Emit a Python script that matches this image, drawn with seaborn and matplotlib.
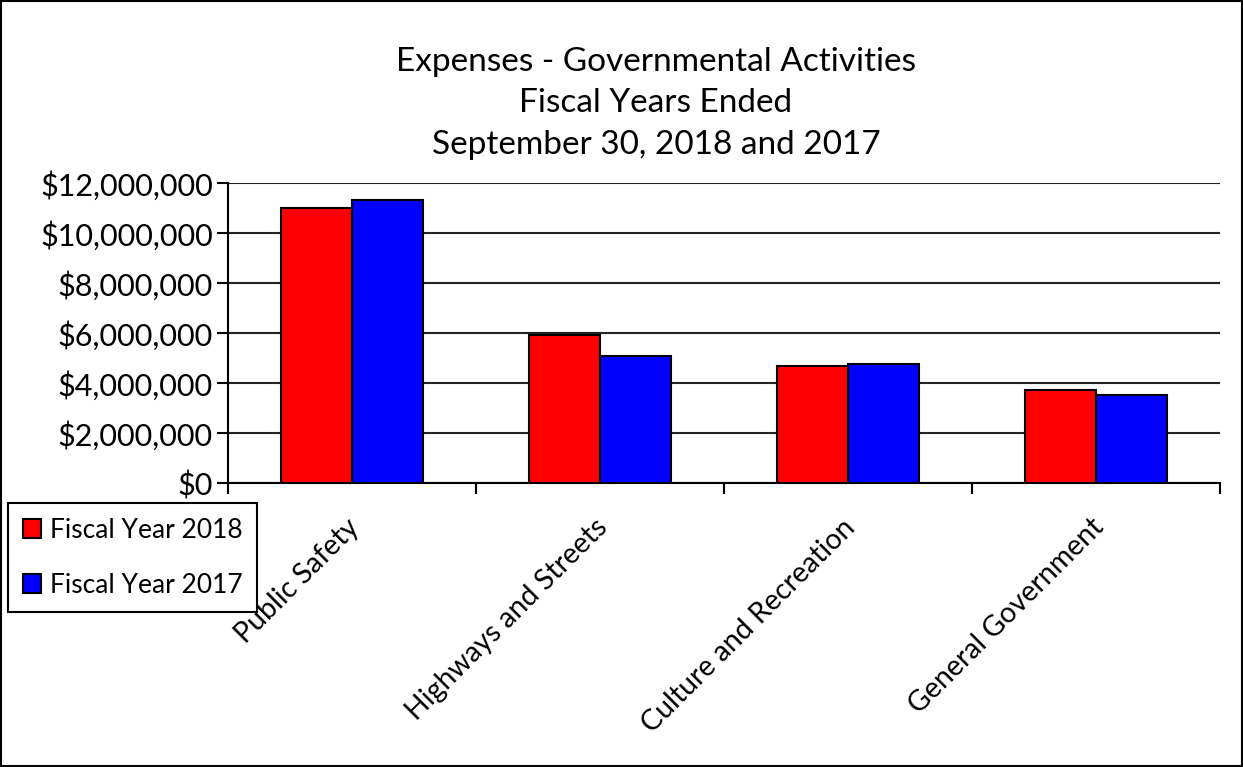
import matplotlib
matplotlib.use("Agg")
import matplotlib.pyplot as plt
import matplotlib.ticker as mticker
import matplotlib.transforms as mtransforms
from matplotlib.patches import Rectangle, Patch
import seaborn as sns
import pandas as pd

categories = ["Public Safety", "Highways and Streets", "Culture and Recreation", "General Government"]
fy2018 = [11010000, 5920000, 4700000, 3730000]
fy2017 = [11330000, 5090000, 4770000, 3530000]
series_names = ["Fiscal Year 2018", "Fiscal Year 2017"]
colors = {"Fiscal Year 2018": "#FF0000", "Fiscal Year 2017": "#0000FF"}
title_lines = ["Expenses - Governmental Activities", "Fiscal Years Ended", "September 30, 2018 and 2017"]

df = pd.DataFrame({
    "Category": categories * 2,
    "Series": [series_names[0]] * 4 + [series_names[1]] * 4,
    "Value": fy2018 + fy2017,
})

sns.set_theme(style="white")
plt.rcParams["font.family"] = ["Lato", "DejaVu Sans"]
plt.rcParams["text.color"] = "black"
plt.rcParams["xtick.color"] = "black"
plt.rcParams["ytick.color"] = "black"

fig = plt.figure(figsize=(12.43, 7.67), dpi=100)
ax = fig.add_axes([228/1243, 1-483.3/767, (1220-228)/1243, (483.3-183.3)/767])

sns.barplot(data=df, x="Category", y="Value", hue="Series", hue_order=series_names,
            palette=colors, width=0.57, edgecolor="black", linewidth=1.5,
            saturation=1, ax=ax, legend=False, zorder=3)

ax.set_ylim(0, 12000000)
ax.set_xlim(-0.5, 3.5)
ax.yaxis.set_major_locator(mticker.MultipleLocator(2000000))
ax.yaxis.set_major_formatter(mticker.StrMethodFormatter("${x:,.0f}"))
ax.grid(axis="y", color="#222222", linewidth=1.5, zorder=0)
ax.set_axisbelow(True)
ax.set_xlabel("")
ax.set_ylabel("")

for s in ["top", "right"]:
    ax.spines[s].set_visible(False)
for s in ["left", "bottom"]:
    ax.spines[s].set_color("black")
    ax.spines[s].set_linewidth(1.5)

ax.tick_params(axis="y", which="major", direction="out", length=8, width=1.5,
               color="black", labelcolor="black", labelsize=22, pad=3, left=True)
ax.tick_params(axis="x", which="major", length=0, labelsize=20.5, labelcolor="black", pad=2)
ax.set_xticks(range(len(categories)))
ax.set_xticklabels(categories, rotation=45, ha="right", va="top", rotation_mode="anchor")
offset = mtransforms.ScaledTranslation(-6/100, -28/100, fig.dpi_scale_trans)
for lbl in ax.get_xticklabels():
    lbl.set_transform(lbl.get_transform() + offset)
ax.xaxis.set_minor_locator(mticker.FixedLocator([-0.5, 0.5, 1.5, 2.5, 3.5]))
ax.tick_params(axis="x", which="minor", direction="out", length=8, width=1.5,
               color="black", bottom=True)

title_y = [62, 103, 145]
for line, yy in zip(title_lines, title_y):
    fig.text(656/1243, 1-yy/767, line, ha="center", va="center",
             fontsize=24, color="black")

handles = [Patch(facecolor=colors[n], edgecolor="black", linewidth=1.5) for n in series_names]
leg = fig.legend(handles, series_names, loc="upper left",
                 bbox_to_anchor=(8/1243, 1-503/767), fontsize=19,
                 frameon=True, fancybox=False, edgecolor="black", framealpha=1,
                 handlelength=0.7, handleheight=0.7, handletextpad=0.35,
                 labelspacing=1.15, borderpad=0.55, borderaxespad=0)
leg.get_frame().set_linewidth(1.5)
leg.set_zorder(10)
for t in leg.get_texts():
    t.set_color("black")

fig.patches.append(Rectangle((0.001, 0.001), 0.998, 0.998, transform=fig.transFigure,
                             fill=False, edgecolor="black", linewidth=1.5))

fig.savefig("out.png", dpi=100)
